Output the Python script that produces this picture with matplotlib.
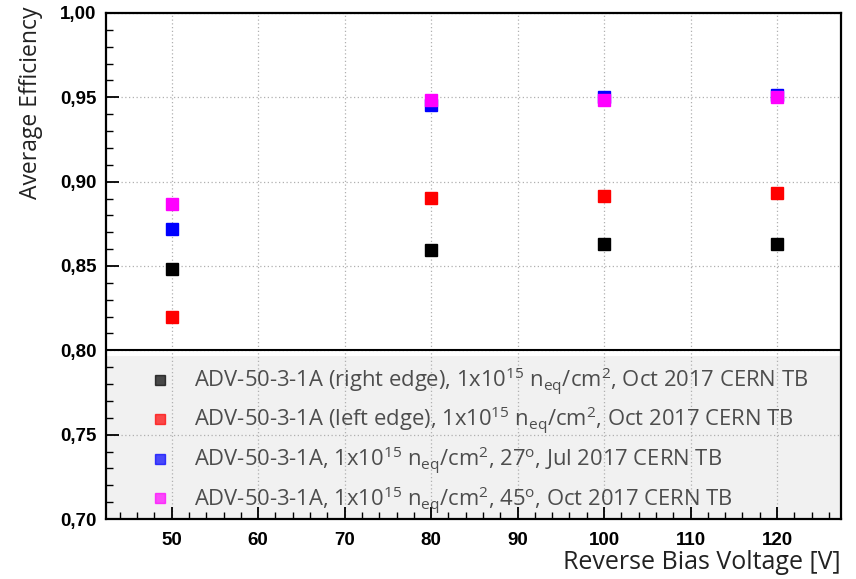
import matplotlib
matplotlib.use("Agg")
import matplotlib.pyplot as plt
from matplotlib.patches import Rectangle
from matplotlib.ticker import FixedLocator, MultipleLocator, FuncFormatter

plt.rcParams['mathtext.default'] = 'regular'

voltage = [50, 80, 100, 120]
eff_right = [0.848, 0.8596, 0.8629, 0.8629]
eff_left = [0.820, 0.8904, 0.8913, 0.8930]
eff_27 = [0.872, 0.9457, 0.9499, 0.9511]
eff_45 = [0.887, 0.9485, 0.9487, 0.9499]

labels = [
    r'ADV-50-3-1A (right edge), 1x10$^{15}$ n$_{eq}$/cm$^{2}$, Oct 2017 CERN TB',
    r'ADV-50-3-1A (left edge), 1x10$^{15}$ n$_{eq}$/cm$^{2}$, Oct 2017 CERN TB',
    r'ADV-50-3-1A, 1x10$^{15}$ n$_{eq}$/cm$^{2}$, 27$^{o}$, Jul 2017 CERN TB',
    r'ADV-50-3-1A, 1x10$^{15}$ n$_{eq}$/cm$^{2}$, 45$^{o}$, Oct 2017 CERN TB',
]
colors = ['black', 'red', 'blue', 'magenta']
series = [eff_right, eff_left, eff_27, eff_45]

fig = plt.figure(figsize=(8.56, 5.79), dpi=100)
ax = fig.add_axes([0.1238, 0.1036, 0.8587, 0.874])

for vals, c, lab in zip(series, colors, labels):
    ax.plot(voltage, vals, 's', color=c, ms=9, mec=c, label=lab, zorder=5)

ax.set_xlim(42.4, 127.4)
ax.set_ylim(0.70, 1.00)
ax.xaxis.set_major_locator(FixedLocator([50, 60, 70, 80, 90, 100, 110, 120]))
ax.xaxis.set_minor_locator(MultipleLocator(2))
ax.yaxis.set_major_locator(MultipleLocator(0.05))
ax.yaxis.set_minor_locator(MultipleLocator(0.01))
ax.yaxis.set_major_formatter(FuncFormatter(lambda v, p: f'{v:.2f}'.replace('.', ',')))

ax.tick_params(which='both', direction='in', top=False, right=False)
ax.tick_params(which='major', length=9, width=1.3, labelsize=13.5)
ax.tick_params(axis='x', which='major', pad=9)
ax.tick_params(axis='y', which='major', pad=7)
ax.tick_params(which='minor', length=5, width=1.0)
for t in ax.get_xticklabels() + ax.get_yticklabels():
    t.set_fontweight('bold')
    t.set_family('Liberation Sans')

ax.grid(True, which='major', linestyle=(0, (1, 2)), color='#b0b0b0', lw=0.9)
for s in ax.spines.values():
    s.set_linewidth(1.6)
ax.axhline(0.80, color='black', lw=1.5, zorder=4)

ax.add_patch(Rectangle((-0.01, 0), 1.01, 0.323, transform=ax.transAxes,
                       facecolor='#e8e8e8', alpha=0.6, edgecolor='none', zorder=0.5))

leg = ax.legend(loc='upper left', bbox_to_anchor=(0.045, 0.33), frameon=False,
                prop={'family': 'Open Sans', 'size': 15.8}, labelspacing=0.36,
                handletextpad=1.2, handlelength=0.7, markerscale=0.85,
                borderaxespad=0.2)
for t in leg.get_texts():
    t.set_color('#4d4d4d')
for h in leg.legend_handles:
    h.set_alpha(0.7)

ax.set_xlabel('Reverse Bias Voltage [V]', family='Open Sans', fontsize=18, color='#222222')
ax.xaxis.set_label_coords(1.0, -0.062)
ax.xaxis.label.set_ha('right')
ax.set_ylabel('Average Efficiency', family='Open Sans', fontsize=16.5, color='#222222')
ax.yaxis.set_label_coords(-0.086, 0.822)

fig.savefig('out.png', dpi=100)
